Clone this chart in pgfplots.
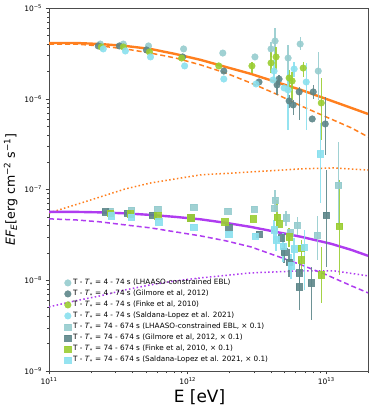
\documentclass[border=0pt]{standalone}
\usepackage{fontspec}
\setmainfont{DejaVu Sans}
\usepackage{pgfplots}
\pgfplotsset{compat=1.18}

\definecolor{lhaaso}{RGB}{150,204,206}
\definecolor{gilm}{RGB}{93,134,137}
\definecolor{finke}{RGB}{154,205,50}
\definecolor{sald}{RGB}{138,224,238}
\definecolor{lorange}{RGB}{255,127,30}
\definecolor{lpurple}{RGB}{175,60,240}

\pgfplotsset{
  circ/.style={only marks, mark=*, mark size=3.3bp, color=#1, opacity=0.9,
    error bars/.cd, y dir=both, y explicit,
    error bar style={line width=1.3bp, color=#1, opacity=0.9}, error mark=none},
  sq/.style={only marks, mark=square*, mark size=3.2bp, color=#1, opacity=0.9,
    error bars/.cd, y dir=both, y explicit,
    error bar style={line width=1.3bp, color=#1, opacity=0.9}, error mark=none},
}

\begin{document}
\begin{tikzpicture}
\begin{axis}[
  xmode=log, ymode=log,
  scale only axis, width=319bp, height=363bp,
  xmin=1e11, xmax=2e13, ymin=1e-9, ymax=1e-5,
  xtick={1e11,1e12,1e13},
  xticklabels={10\textsuperscript{11},10\textsuperscript{12},10\textsuperscript{13}},
  minor xtick={2e11,3e11,4e11,5e11,6e11,7e11,8e11,9e11,2e12,3e12,4e12,5e12,6e12,7e12,8e12,9e12,2e13},
  ytick={1e-9,1e-8,1e-7,1e-6,1e-5},
  yticklabels={10\textsuperscript{−9},10\textsuperscript{−8},10\textsuperscript{−7},10\textsuperscript{−6},10\textsuperscript{−5}},
  minor ytick={2e-9,3e-9,4e-9,5e-9,6e-9,7e-9,8e-9,9e-9,2e-8,3e-8,4e-8,5e-8,6e-8,7e-8,8e-8,9e-8,
    2e-7,3e-7,4e-7,5e-7,6e-7,7e-7,8e-7,9e-7,2e-6,3e-6,4e-6,5e-6,6e-6,7e-6,8e-6,9e-6},
  tick align=outside, tick pos=left,
  major tick length=3.5bp, minor tick length=2bp,
  every tick/.style={black!75},
  axis line style={black!70},
  tick label style={font=\fontsize{7.5}{9}\selectfont},
  xlabel={E [eV]}, xlabel style={font=\fontsize{17}{19}\selectfont, xshift=-9bp, yshift=2bp},
  ylabel={\textit{EF}\textsubscript{\textit{E}}[erg cm\textsuperscript{−2} s\textsuperscript{−1}]},
  ylabel style={font=\fontsize{12.6}{14}\selectfont},
  legend cell align=left,
  legend image code/.code={\draw[#1] plot coordinates {(0.1cm,0cm)};},
  legend style={at={(0.045,0.012)}, anchor=south west, draw=none, fill=none,
    font=\fontsize{7.3}{8.3}\selectfont, row sep=0pt, inner sep=1pt},
]
% model curves
\addplot[lorange, line width=2.4bp, forget plot] coordinates {
 (1e11,4.12e-6) (1.543e11,4.12e-6) (2.343e11,4.01e-6) (3.554e11,3.82e-6) (5.395e11,3.54e-6)
 (8.185e11,3.11e-6) (1.243e12,2.68e-6) (1.886e12,2.24e-6) (2.861e12,1.88e-6) (4.342e12,1.53e-6)
 (6.589e12,1.25e-6) (1e13,9.95e-7) (1.518e13,7.92e-7) (2e13,6.8e-7)};
\addplot[lorange, line width=1.5bp, dash pattern=on 5bp off 3bp, forget plot] coordinates {
 (1e11,4.01e-6) (1.543e11,4.01e-6) (2.343e11,3.82e-6) (3.554e11,3.54e-6) (5.395e11,3.19e-6)
 (8.185e11,2.81e-6) (1.243e12,2.36e-6) (1.886e12,1.92e-6) (2.861e12,1.49e-6) (4.342e12,1.13e-6)
 (6.589e12,8.33e-7) (1e13,6.30e-7) (1.518e13,4.77e-7) (2e13,3.80e-7)};
\addplot[lorange, line width=1.5bp, dash pattern=on 1.5bp off 2.4bp, forget plot] coordinates {
 (1e11,5.52e-8) (1.543e11,6.77e-8) (2.343e11,8.29e-8) (3.554e11,1.015e-7) (5.395e11,1.18e-7)
 (8.185e11,1.31e-7) (1.243e12,1.45e-7) (2.861e12,1.56e-7) (6.589e12,1.69e-7) (1.143e13,1.73e-7)
 (2e13,1.64e-7)};
\addplot[lpurple, line width=2.4bp, forget plot] coordinates {
 (1e11,5.67e-8) (1.543e11,5.67e-8) (2.343e11,5.60e-8) (3.554e11,5.46e-8) (5.395e11,5.25e-8)
 (8.185e11,4.99e-8) (1.243e12,4.69e-8) (1.886e12,4.29e-8) (2.861e12,3.87e-8) (4.342e12,3.41e-8)
 (6.589e12,3.01e-8) (1.087e13,2.52e-8) (1.518e13,2.16e-8) (2e13,1.86e-8)};
\addplot[lpurple, line width=1.5bp, dash pattern=on 5bp off 3bp, forget plot] coordinates {
 (1e11,4.75e-8) (1.543e11,4.63e-8) (2.343e11,4.40e-8) (3.554e11,4.07e-8) (5.395e11,3.78e-8)
 (8.185e11,3.41e-8) (1.243e12,3.08e-8) (1.886e12,2.72e-8) (2.861e12,2.33e-8) (4.342e12,1.86e-8)
 (6.589e12,1.48e-8) (1e13,1.15e-8) (1.518e13,8.68e-9) (2e13,7.27e-9)};
\addplot[lpurple, line width=1.5bp, dash pattern=on 1.5bp off 2.4bp, forget plot] coordinates {
 (1e11,5.09e-9) (1.543e11,5.93e-9) (2.343e11,6.73e-9) (3.554e11,7.84e-9) (5.395e11,8.90e-9)
 (8.185e11,9.85e-9) (1.243e12,1.062e-8) (2.861e12,1.206e-8) (6.589e12,1.269e-8) (1.143e13,1.269e-8)
 (2e13,1.118e-8)};

% 4 - 74 s
\addplot[circ=lhaaso] coordinates {
 (2.343e11,4.01e-6) (3.437e11,4.01e-6) (5.217e11,3.82e-6) (9.35e11,3.54e-6) (1.793e12,3.19e-6)
 (3.058e12,2.89e-6)
 (3.995e12,3.54e-6) += (0,0.68e-6) -= (0,0.65e-6)
 (4.270e12,4.33e-6) += (0,1.69e-6) -= (0,1.29e-6)
 (5.304e12,2.81e-6) += (0,1.10e-6) -= (0,1.32e-6)
 (6.480e12,4.01e-6) += (0,0.78e-6) -= (0,0.56e-6)
 (8.750e12,2.02e-6) += (0,1.26e-6) -= (0,1.05e-6)};
\addlegendentry{T - \textit{T}\textsubscript{*} = 4 - 74 s (LHAASO-constrained EBL)}
\addplot[circ=gilm] coordinates {
 (2.265e11,3.82e-6) (3.216e11,3.82e-6) (5.046e11,3.45e-6) (9.20e11,2.89e-6) (1.823e12,2.02e-6)
 (3.270e12,1.53e-6)
 (4.564e12,1.65e-6) += (0,0.18e-6) -= (0,0.23e-6)
 (4.415e12,1.42e-6) += (0,0.19e-6) -= (0,0.32e-6)
 (5.395e12,9.46e-7) += (0,1.5e-7) -= (0,1.5e-7)
 (5.767e12,8.55e-7) += (0,1.15e-7) -= (0,1.9e-7)
 (6.373e12,1.19e-6) += (0,0.16e-6) -= (0,0.61e-6)
 (7.916e12,5.99e-7)
 (8.05e12,1.19e-6) += (0,0.23e-6) -= (0,0.2e-6)
 (9.83e12,5.28e-7) += (0,5.2e-7) -= (0,2.9e-7)};
\addlegendentry{T - \textit{T}\textsubscript{*} = 4 - 74 s (Gilmore et al, 2012)}
\addplot[circ=finke] coordinates {
 (2.382e11,3.72e-6) (3.437e11,3.72e-6) (5.304e11,3.28e-6) (9.05e11,2.81e-6) (1.677e12,2.30e-6)
 (2.909e12,2.30e-6) += (0,0.24e-6) -= (0,0.38e-6)
 (3.995e12,2.48e-6) += (0,0.80e-6) -= (0,0.56e-6)
 (4.342e12,2.89e-6) += (0,0.83e-6) -= (0,0.81e-6)
 (5.395e12,1.695e-6) += (0,0.39e-6) -= (0,0.45e-6)
 (5.670e12,1.57e-6) += (0,0.40e-6) -= (0,0.60e-6)
 (6.813e12,2.18e-6) += (0,0.36e-6) -= (0,0.44e-6)
 (9.20e12,8.99e-7) += (0,8.0e-7) -= (0,5.5e-7)};
\addlegendentry{T - \textit{T}\textsubscript{*} = 4 - 74 s (Finke et al, 2010)}
\addplot[circ=sald] coordinates {
 (2.462e11,3.54e-6) (3.554e11,3.36e-6) (5.395e11,2.89e-6) (9.51e11,2.30e-6) (1.823e12,1.65e-6)
 (3.111e12,1.455e-6)
 (4.200e12,2.02e-6) += (0,0.65e-6) -= (0,0.41e-6)
 (4.130e12,1.61e-6)
 (4.963e12,1.315e-6)
 (5.304e12,1.25e-6) += (0,0.83e-6) -= (0,0.80e-6)
 (5.863e12,2.13e-6) += (0,0.41e-6) -= (0,0.39e-6)
 (7.164e12,1.53e-6) += (0,0.95e-6) -= (0,1.08e-6)};
\addlegendentry{T - \textit{T}\textsubscript{*} = 4 - 74 s (Saldana-Lopez et al. 2021)}

% 74 - 674 s (x 0.1)
\addplot[sq=lhaaso] coordinates {
 (2.767e11,5.81e-8) (3.929e11,5.96e-8) (6.062e11,6.11e-8) (1.105e12,6.43e-8) (1.949e12,5.81e-8)
 (3.008e12,6.11e-8)
 (4.270e12,7.68e-8) += (0,2.2e-8) -= (0,2.0e-8)
 (4.200e12,6.27e-8)
 (5.130e12,4.87e-8) += (0,1.0e-8) -= (0,0.9e-8)
 (5.485e12,3.33e-8)
 (6.164e12,4.07e-8) += (0,0.9e-8) -= (0,0.9e-8)
 (8.605e12,3.16e-8) += (0,2.0e-8) -= (0,1.5e-8)
 (1.222e13,1.12e-7) += (0,2.22e-7) -= (0,0.713e-7)};
\addlegendentry{T - \textit{T}\textsubscript{*} = 74 - 674 s (LHAASO-constrained EBL, × 0.1)}
\addplot[sq=gilm] coordinates {
 (2.545e11,5.67e-8) (3.675e11,5.52e-8) (5.578e11,5.25e-8) (1.051e12,4.87e-8) (1.982e12,3.87e-8)
 (3.270e12,3.24e-8) (4.720e12,2.93e-8)
 (4.963e12,2.06e-8) += (0,0.5e-8) -= (0,0.5e-8)
 (5.395e12,1.59e-8) += (0,0.6e-8) -= (0,0.5e-8)
 (6.373e12,1.21e-8) += (0,0.3e-8) -= (0,0.3e-8)
 (6.373e12,8.46e-9) += (0,8.3e-9) -= (0,3.7e-9)
 (7.785e12,9.36e-9) += (0,4.6e-9) -= (0,5.7e-9)
 (1.0e13,5.25e-8) += (0,1.12e-7) -= (0,3.85e-8)};
\addlegendentry{T - \textit{T}\textsubscript{*} = 74 - 674 s (Gilmore et al, 2012, × 0.1)}
\addplot[sq=finke] coordinates {
 (2.767e11,5.52e-8) (3.864e11,5.39e-8) (6.062e11,5.12e-8) (1.051e12,4.87e-8) (1.854e12,4.40e-8)
 (2.958e12,4.75e-8)
 (4.415e12,4.99e-8) += (0,2.7e-8) -= (0,1.4e-8)
 (4.564e12,4.18e-8)
 (5.395e12,3.01e-8) += (0,0.8e-8) -= (0,0.7e-8)
 (6.589e12,2.27e-8) += (0,0.5e-8) -= (0,0.5e-8)
 (6.589e12,1.68e-8) += (0,0.5e-8) -= (0,0.5e-8)
 (9.20e12,1.15e-8) += (0,1.18e-8) -= (0,0.586e-8)
 (1.242e13,3.97e-8) += (0,8.78e-8) -= (0,2.82e-8)};
\addlegendentry{T - \textit{T}\textsubscript{*} = 74 - 674 s (Finke et al, 2010, × 0.1)}
\addplot[sq=sald] coordinates {
 (2.813e11,5.12e-8) (3.929e11,4.99e-8) (6.164e11,4.40e-8) (1.105e12,3.87e-8) (1.982e12,3.24e-8)
 (3.058e12,3.08e-8)
 (4.200e12,3.59e-8) += (0,1.0e-8) -= (0,0.8e-8)
 (4.342e12,2.79e-8) += (0,0.8e-8) -= (0,0.7e-8)
 (4.880e12,2.39e-8) += (0,0.9e-8) -= (0,0.8e-8)
 (5.578e12,1.44e-8) += (0,0.5e-8) -= (0,0.4e-8)
 (5.863e12,2.22e-8) += (0,0.7e-8) -= (0,0.6e-8)
 (6.928e12,2.33e-8) += (0,1.26e-8) -= (0,1.55e-8)
 (9.05e12,2.47e-7) += (0,2.94e-7) -= (0,1.758e-7)};
\addlegendentry{T - \textit{T}\textsubscript{*} = 74 - 674 s (Saldana-Lopez et al. 2021, × 0.1)}
\end{axis}
\pgfresetboundingbox
\path[use as bounding box] ([shift={(-49bp,-36bp)}]current axis.south west) rectangle ([shift={(6bp,8bp)}]current axis.north east);
\end{tikzpicture}
\end{document}
